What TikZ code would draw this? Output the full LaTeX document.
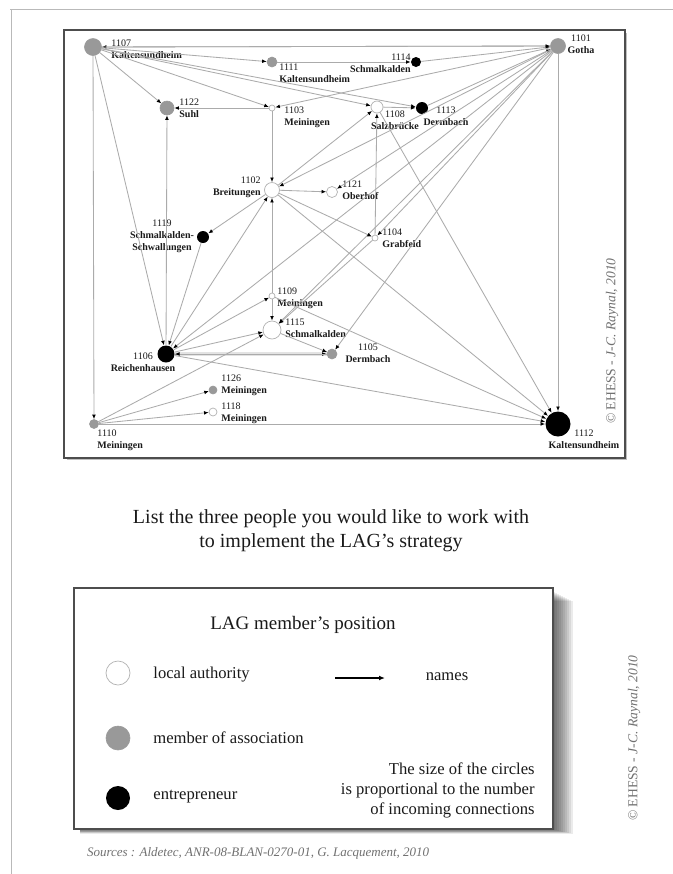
\documentclass[tikz,border=0pt]{standalone}
\usepackage{fontspec}
\setmainfont{Liberation Serif}
\usetikzlibrary{arrows.meta}
\definecolor{assocgrey}{HTML}{999999}
\definecolor{tiegrey}{HTML}{ABABAB}
\definecolor{framegrey}{HTML}{4D4D4D}
\definecolor{inkgrey}{HTML}{1A1A1A}
\definecolor{notegrey}{HTML}{707070}
\tikzset{
  authority/.style={circle,draw=gray!60,fill=white,line width=0.35pt,inner sep=0pt,minimum size=#1},
  association/.style={circle,draw=gray!80,fill=assocgrey,line width=0.3pt,inner sep=0pt,minimum size=#1},
  entrepreneur/.style={circle,fill=black,inner sep=0pt,minimum size=#1},
  idlabel/.style={font=\fontsize{5}{6}\selectfont,inner sep=0pt,text=inkgrey},
  tie/.style={draw=tiegrey,line width=0.42pt,-{Latex[length=2.3pt,width=1.9pt,color=black]}},
  band/.style={draw=gray!22,line width=2pt},
  legendtext/.style={font=\fontsize{8.3}{10}\selectfont,text=inkgrey,inner sep=0pt}
}

\begin{document}
\begin{tikzpicture}[x=0.5pt,y=-0.5pt]
  \useasboundingbox (0,0) rectangle (673,874);
  % Page edges
  \draw[gray!55,line width=0.5pt] (10,9) -- (673,9);
  \draw[gray!55,line width=0.5pt] (11,9) -- (11,874);
  % Network frame
  \fill[gray!50] (67,33) rectangle (627,460);
  \draw[framegrey,line width=1.2pt,fill=white] (64,30) rectangle (625,458);
  % Members
  \node[association=8.5pt] (n1107) at (93,47) {};
  \node[association=5pt] (n1111) at (272,62) {};
  \node[association=7pt] (n1122) at (167,108) {};
  \node[authority=3pt] (n1103) at (272,108) {};
  \node[association=7.5pt] (n1101) at (558,46) {};
  \node[entrepreneur=5pt] (n1114) at (416,62) {};
  \node[authority=6pt] (n1108) at (377,107) {};
  \node[entrepreneur=6pt] (n1113) at (422,108) {};
  \node[authority=7.5pt] (n1102) at (272,190) {};
  \node[authority=5.5pt] (n1121) at (332,192) {};
  \node[authority=3pt] (n1104) at (375,238) {};
  \node[entrepreneur=6pt] (n1119) at (203,237) {};
  \node[authority=3pt] (n1109) at (272,296) {};
  \node[authority=9pt] (n1115) at (272,330) {};
  \node[association=5pt] (n1105) at (332,354) {};
  \node[entrepreneur=8.5pt] (n1106) at (166,354) {};
  \node[association=4pt] (n1126) at (213,390) {};
  \node[authority=4pt] (n1118) at (213,412) {};
  \node[association=4.5pt] (n1110) at (94,424) {};
  \node[entrepreneur=12.5pt] (n1112) at (558,424) {};
  % Names
  \node[idlabel,anchor=west,align=left] (l1107) at (111,49) {1107\\\textbf{Kaltensundheim}};
  \node[idlabel,anchor=west,align=left] (l1111) at (279,73) {1111\\\textbf{Kaltensundheim}};
  \node[idlabel,anchor=west,align=left] (l1122) at (179,108) {1122\\\textbf{Suhl}};
  \node[idlabel,anchor=west,align=left] (l1103) at (284,117) {1103\\\textbf{Meiningen}};
  \node[idlabel,align=center] (l1101) at (581,44) {1101\\\textbf{Gotha}};
  \node[idlabel,anchor=east,align=right] (l1114) at (411,63) {1114\\\textbf{Schmalkalden}};
  \node[idlabel,align=center] (l1108) at (395,120) {1108\\\textbf{Salzbrücke}};
  \node[idlabel,align=center] (l1113) at (446,116) {1113\\\textbf{Dermbach}};
  \node[idlabel,anchor=east,align=right] (l1102) at (261,187) {1102\\\textbf{Breitungen}};
  \node[idlabel,anchor=west,align=left] (l1121) at (342,190) {1121\\\textbf{Oberhof}};
  \node[idlabel,anchor=west,align=left] (l1104) at (382,238) {1104\\\textbf{Grabfeld}};
  \node[idlabel,align=center] (l1119) at (162,236) {1119\\\textbf{Schmalkalden-}\\\textbf{Schwallungen}};
  \node[idlabel,anchor=west,align=left] (l1109) at (277,298) {1109\\\textbf{Meiningen}};
  \node[idlabel,anchor=west,align=left] (l1115) at (285,328) {1115\\\textbf{Schmalkalden}};
  \node[idlabel,align=center] (l1105) at (368,353) {1105\\\textbf{Dermbach}};
  \node[idlabel,align=center] (l1106) at (143,362) {1106\\\textbf{Reichenhausen}};
  \node[idlabel,anchor=west,align=left] (l1126) at (221,385) {1126\\\textbf{Meiningen}};
  \node[idlabel,anchor=west,align=left] (l1118) at (221,413) {1118\\\textbf{Meiningen}};
  \node[idlabel,anchor=west,align=left] (l1110) at (97,440) {1110\\\textbf{Meiningen}};
  \node[idlabel,align=center] (l1112) at (584,439) {1112\\\textbf{Kaltensundheim}};
  % Who names whom
  \draw[band] (n1106) -- (n1105);
  \draw[tie] (n1106) -- (n1105);
  \draw[tie] (n1105) -- (n1106);
  \draw[tie] (n1101) -- (n1107);
  \draw[tie] (n1107) -- (n1101);
  \draw[tie] (n1107) -- (n1111);
  \draw[tie] (n1107) -- (n1122);
  \draw[tie] (n1107) -- (n1103);
  \draw[tie] (n1107) -- (n1108);
  \draw[tie] (n1107) -- (n1113);
  \draw[tie] (n1107) -- (n1106);
  \draw[tie] (n1107) -- (n1110);
  \draw[tie] (n1111) -- (n1114);
  \draw[tie] (n1114) -- (n1101);
  \draw[tie] (n1113) -- (n1101);
  \draw[tie] (n1101) -- (n1103);
  \draw[tie] (n1101) -- (n1102);
  \draw[tie] (n1101) -- (n1106);
  \draw[tie] (n1101) -- (n1121);
  \draw[tie] (n1101) -- (n1104);
  \draw[tie] (n1101) -- (n1105);
  \draw[tie] (n1101) -- (n1115);
  \draw[tie] (n1101) -- (n1112);
  \draw[tie] (n1103) -- (n1102);
  \draw[tie] (n1103) -- (n1122);
  \draw[tie] (n1102) -- (n1108);
  \draw[tie] (n1102) -- (n1121);
  \draw[tie] (n1102) -- (n1119);
  \draw[tie] (n1102) -- (n1104);
  \draw[tie] (n1102) -- (n1112);
  \draw[tie] (n1109) -- (n1102);
  \draw[tie] (n1109) -- (n1115);
  \draw[tie] (n1109) -- (n1112);
  \draw[tie] (n1108) -- (n1113);
  \draw[tie] (n1108) -- (n1112);
  \draw[tie] (n1104) -- (n1108);
  \draw[tie] (n1104) -- (n1115);
  \draw[tie] (n1106) -- (n1122);
  \draw[tie] (n1119) -- (n1106);
  \draw[tie] (n1106) -- (n1102);
  \draw[tie] (n1106) -- (n1109);
  \draw[tie] (n1106) -- (n1115);
  \draw[tie] (n1106) -- (n1112);
  \draw[tie] (n1115) -- (n1105);
  \draw[tie] (n1110) -- (n1115);
  \draw[tie] (n1110) -- (n1126);
  \draw[tie] (n1110) -- (n1118);
  \draw[tie] (n1110) -- (n1112);
  % Copyright on the network
  \node[rotate=90,font=\fontsize{6.8}{8}\selectfont,text=notegrey] (copyNet) at (612,341) {© EHESS - \textit{J-C. Raynal, 2010}};
  % Question
  \node[font=\fontsize{10}{12}\selectfont,align=center,text=inkgrey] (question) at (331,531) {List the three people you would like to work with\\to implement the LAG's strategy};
  % Legend shadow and box
  \foreach \s in {0,...,9}
    \fill[black,opacity=0.08] (80,592+\s) rectangle (555+2*\s,830+0.4*\s);
  \draw[framegrey,line width=0.9pt,fill=white] (74,588) rectangle (553,829);
  \node[font=\fontsize{9.5}{11}\selectfont,text=inkgrey] (legtitle) at (303,625) {LAG member's position};
  \node[authority=12pt] (keyA) at (118,673) {};
  \node[legendtext,anchor=west] (keyAtext) at (153,675) {local authority};
  \node[association=12pt] (keyB) at (118,738) {};
  \node[legendtext,anchor=west] (keyBtext) at (153,738) {member of association};
  \node[entrepreneur=12pt] (keyC) at (118,798) {};
  \node[legendtext,anchor=west] (keyCtext) at (153,797) {entrepreneur};
  \coordinate (keyArrowS) at (335,678);
  \coordinate (keyArrowE) at (385,678);
  \draw[black,line width=0.6pt,-{Latex[length=3pt,width=2.4pt]}] (keyArrowS) -- (keyArrowE);
  \node[legendtext] (keyArrowtext) at (447,677) {names};
  \node[legendtext,align=right,anchor=east] (sizenote) at (535,790) {The size of the circles\\is proportional to the number\\of incoming connections};
  % Sources and copyright
  \node[font=\fontsize{6.5}{8}\selectfont\itshape,text=notegrey,anchor=west] (sources) at (80,853) {Sources : Aldetec, ANR-08-BLAN-0270-01, G. Lacquement, 2010};
  \node[rotate=90,font=\fontsize{6.8}{8}\selectfont,text=notegrey] (copyPage) at (634,738) {© EHESS - \textit{J-C. Raynal, 2010}};
\end{tikzpicture}
\end{document}
